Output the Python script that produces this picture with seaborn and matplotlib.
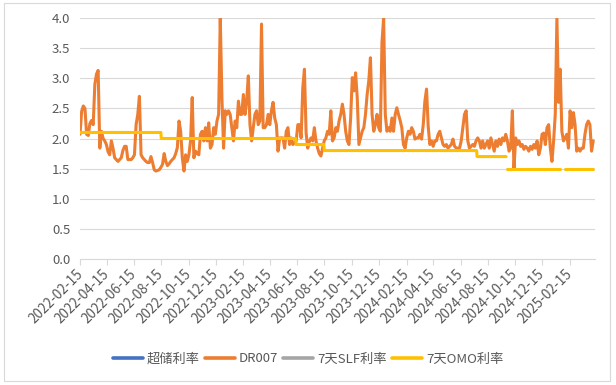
import numpy as np
import pandas as pd
import matplotlib
matplotlib.use("Agg")
import matplotlib.pyplot as plt
import seaborn as sns
from matplotlib.lines import Line2D
from matplotlib.patches import Rectangle

# ---------------- data ----------------
series_names = ["超储利率", "DR007", "7天SLF利率", "7天OMO利率"]
series_colors = ["#4472C4", "#ED7D31", "#A5A5A5", "#FFC000"]

dr007_start = "2022-02-14"
dr007_end = "2025-04-08"
dr007_values = [
    # 2022-02 .. 2022-10
    2.07, 2.45, 2.54, 2.50, 2.07, 2.05, 2.25, 2.30, 2.23, 2.90, 3.07, 3.13, 1.84, 2.12, 2.00, 1.96,
    1.90, 1.78, 1.73, 1.96, 1.84, 1.68, 1.65, 1.62, 1.65, 1.68, 1.80, 1.87, 1.87, 1.65, 1.65, 1.65,
    1.68, 1.73, 2.23, 2.40, 2.70, 1.73, 1.68, 1.65, 1.62, 1.60, 1.60, 1.70, 1.60, 1.48, 1.46, 1.47,
    1.48, 1.52, 1.57, 1.75, 1.62, 1.55, 1.58, 1.62, 1.65, 1.68, 1.75, 1.85, 2.29, 2.12, 1.68, 1.46,
    # 2022-10 .. 2023-06
    1.73, 1.62, 1.73, 1.96, 2.68, 1.68, 1.79, 1.75, 1.73, 2.07, 2.12, 1.96, 2.18, 1.96, 2.26, 1.84,
    1.90, 2.18, 2.07, 2.29, 2.40, 4.00, 2.68, 1.84, 2.46, 2.40, 2.46, 2.40, 2.18, 1.96, 2.29, 2.18,
    2.62, 2.40, 2.40, 2.73, 2.40, 2.62, 3.04, 2.23, 1.96, 2.18, 2.40, 2.46, 2.23, 2.29, 3.90, 2.18,
    2.18, 2.23, 2.40, 2.23, 2.46, 2.60, 2.34, 2.23, 1.79, 2.01, 2.01, 2.01, 1.84, 2.12, 2.18, 1.90,
    2.01,
    # 2023-06 .. 2024-02
    1.90, 1.93, 1.96, 2.23, 2.23, 2.01, 2.84, 3.15, 2.10, 1.84, 1.95, 2.01, 1.96, 2.18, 1.96, 1.84,
    1.75, 1.71, 1.84, 1.96, 2.01, 2.12, 2.07, 2.46, 1.96, 2.01, 2.18, 2.12, 2.29, 2.40, 2.57, 2.40,
    2.12, 1.96, 1.90, 2.34, 3.01, 2.79, 3.09, 2.68, 1.90, 2.01, 2.12, 2.18, 2.40, 2.73, 2.96, 3.34,
    2.40, 2.12, 2.23, 2.40, 2.18, 2.12, 3.60, 4.00, 2.40, 2.12, 2.18, 2.12, 2.34, 2.12, 2.40, 2.51,
    2.40,
    # 2024-02 .. 2024-09
    2.30, 2.18, 1.90, 1.84, 2.01, 2.12, 2.07, 2.18, 2.12, 1.99, 2.01, 2.01, 2.07, 1.99, 2.23, 2.62,
    2.82, 2.20, 1.90, 1.96, 1.87, 1.96, 1.96, 2.07, 2.12, 2.01, 1.90, 1.87, 1.90, 1.84, 1.87, 1.90,
    1.99, 1.87, 1.84, 1.84, 1.84, 1.96, 2.18, 2.40, 2.46, 1.96, 1.84, 1.87, 1.90, 1.87, 1.96, 2.01,
    1.96, 1.84, 1.96, 1.84, 1.90, 1.96, 1.84, 2.01, 1.90, 1.79, 1.96, 1.87, 1.99,
    # 2024-09 .. 2025-04
    1.90, 2.01, 1.96, 2.07, 1.96, 1.79, 1.84, 2.46, 1.51, 2.01, 1.90, 1.96, 1.87, 1.90, 1.82, 1.87,
    1.84, 1.79, 1.87, 1.82, 1.90, 1.84, 1.96, 1.73, 1.84, 2.07, 2.09, 1.90, 2.18, 2.23, 1.84, 1.62,
    1.96, 2.40, 4.00, 2.60, 3.15, 2.12, 1.96, 2.01, 2.07, 1.84, 2.46, 2.18, 2.43, 2.23, 1.79, 1.84,
    1.79, 1.84, 1.84, 2.07, 2.23, 2.29, 2.23, 1.79, 1.96,
]

omo_change_dates = ["2022-02-14", "2022-08-15", "2023-06-13", "2023-08-15", "2024-07-22", "2024-09-27"]
omo_rates = [2.10, 2.00, 1.90, 1.80, 1.70, 1.50]
omo_missing = [("2024-09-26", "2024-09-26"), ("2025-01-24", "2025-02-03")]

tick_labels = ["2022-02-15", "2022-04-15", "2022-06-15", "2022-08-15", "2022-10-15",
               "2022-12-15", "2023-02-15", "2023-04-15", "2023-06-15", "2023-08-15",
               "2023-10-15", "2023-12-15", "2024-02-15", "2024-04-15", "2024-06-15",
               "2024-08-15", "2024-10-15", "2024-12-15", "2025-02-15"]
y_ticks = [0.0, 0.5, 1.0, 1.5, 2.0, 2.5, 3.0, 3.5, 4.0]

# ---------------- build tables ----------------
df_dr = pd.DataFrame({
    "date": pd.date_range(dr007_start, dr007_end, periods=len(dr007_values)),
    "value": dr007_values,
})

omo_days = pd.date_range(omo_change_dates[0], dr007_end, freq="D")
omo = pd.Series(np.nan, index=omo_days)
for d, r in zip(omo_change_dates, omo_rates):
    omo[omo.index >= pd.Timestamp(d)] = r
for a, b in omo_missing:
    omo[(omo.index >= pd.Timestamp(a)) & (omo.index <= pd.Timestamp(b))] = np.nan
df_omo = pd.DataFrame({"date": omo.index, "rate": omo.values,
                       "seg": omo.isna().cumsum().values}).dropna()

# ---------------- plot ----------------
sns.set_theme(style="white")
plt.rcParams["font.family"] = ["Noto Sans CJK SC", "DejaVu Sans"]

W, H = 616, 385
fig = plt.figure(figsize=(W / 100, H / 100), dpi=100)
ax = fig.add_axes([80 / W, 1 - 259 / H, (595 - 80) / W, (259 - 18) / H])

sns.lineplot(data=df_dr, x="date", y="value", estimator=None, color=series_colors[1],
             lw=2.2, ax=ax, legend=False)
sns.lineplot(data=df_omo, x="date", y="rate", units="seg", estimator=None,
             color=series_colors[3], lw=2.2, ax=ax, legend=False)

ax.set_ylim(0, 4.0)
ax.set_xlim(pd.Timestamp("2022-02-14"), pd.Timestamp("2025-04-12"))
ax.set_yticks(y_ticks)
ax.set_yticklabels([f"{v:.1f}" for v in y_ticks])
ax.set_xticks(pd.to_datetime(tick_labels))
ax.set_xticklabels(tick_labels, rotation=45, ha="right", va="center", rotation_mode="anchor")
ax.set_xlabel("")
ax.set_ylabel("")

ax.grid(axis="y", color="#D9D9D9", lw=0.8)
ax.grid(axis="x", visible=False)
for s in ["top", "right", "left"]:
    ax.spines[s].set_visible(False)
ax.spines["bottom"].set_color("#D9D9D9")
ax.spines["bottom"].set_linewidth(0.8)
ax.set_axisbelow(True)

ax.tick_params(axis="x", direction="out", length=4, width=0.8, color="#D9D9D9",
               labelcolor="#595959", labelsize=9.8, pad=5, bottom=True)
ax.tick_params(axis="y", length=0, labelcolor="#595959", labelsize=9.5, pad=7)

handles = [Line2D([0], [0], color=c, lw=2.6) for c in series_colors]
fig.legend(handles, series_names, loc="center", bbox_to_anchor=(0.5, 1 - 359 / H), ncol=4,
           frameon=False, fontsize=9.5, handlelength=2.3, handletextpad=0.3,
           columnspacing=0.35, labelcolor="#595959")

fig.patches.append(Rectangle((4 / W, 1 - 381 / H), (610 - 4) / W, (381 - 3) / H,
                             transform=fig.transFigure, fill=False, ec="#D9D9D9", lw=0.8))

fig.savefig("out.png", dpi=100)
